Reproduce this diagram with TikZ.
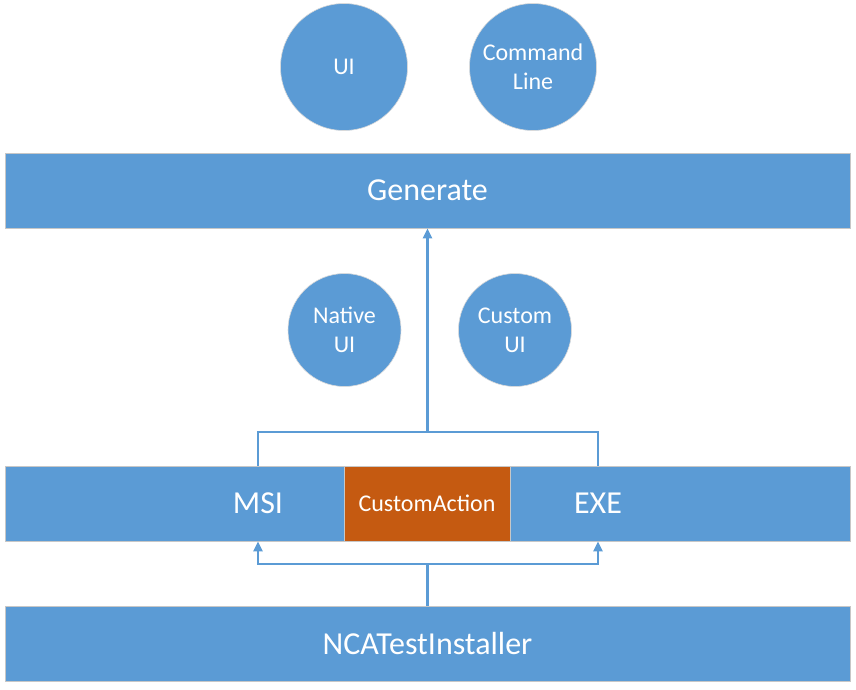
\documentclass[tikz,border=0pt]{standalone}
\usepackage{fontspec}
\setmainfont{Carlito}
\usepackage{xcolor}
\usetikzlibrary{calc,arrows.meta,positioning}
\definecolor{officeblue}{HTML}{5B9BD5}
\definecolor{officeorange}{HTML}{C55A11}
\tikzset{
    bar/.style={draw=black!22, line width=0.8pt, fill=officeblue, minimum width=845pt, minimum height=75pt, inner sep=0pt, text=white, font=\fontsize{32}{38}\selectfont},
    circ/.style={circle, draw=black!15, line width=0.6pt, fill=officeblue, inner sep=0pt, text=white, align=center, font=\fontsize{24}{29}\selectfont},
    lbl/.style={text=white, inner sep=0pt, font=\fontsize{32}{38}\selectfont},
    lnk/.style={draw=officeblue, line width=2.5pt},
    tip/.style={-{Triangle[length=10pt,width=9pt]}}
}
\begin{document}
\begin{tikzpicture}[x=1pt,y=-1pt]
    \useasboundingbox (0,0) rectangle (856,689);
    \node[circ, minimum size=127pt] (ui) at (344,67) {UI};
    \node[circ, minimum size=127pt] (cmdline) at (533,67) {Command\\Line};
    \node[bar] (generate) at (427.5,190.5) {Generate};
    \node[circ, minimum size=113pt] (nativeui) at (344.5,330) {Native\\UI};
    \node[circ, minimum size=113pt] (customui) at (515,330) {Custom\\UI};
    \node[bar] (pkgbar) at (427.5,503.5) {};
    \node[lbl] (msi) at (258,503.5) {MSI};
    \node[lbl] (exe) at (598,503.5) {EXE};
    \node[draw=black!22, line width=0.8pt, fill=officeorange, minimum width=166pt, minimum height=75pt, inner sep=0pt, text=white, font=\fontsize{24}{29}\selectfont] (customaction) at (427,503.5) {CustomAction};
    \node[bar] (installer) at (427.5,643.5) {NCATestInstaller};
    \coordinate (joinup) at (427.5,432);
    \coordinate (joindown) at (427.5,564);
    \draw[lnk] (msi |- pkgbar.north) |- (joinup) -| (exe |- pkgbar.north);
    \draw[lnk,tip] (joinup) -- (generate.south);
    \draw[lnk] (installer.north) -- (joindown);
    \draw[lnk,tip] (joindown) -| (msi |- pkgbar.south);
    \draw[lnk,tip] (joindown) -| (exe |- pkgbar.south);
\end{tikzpicture}
\end{document}
